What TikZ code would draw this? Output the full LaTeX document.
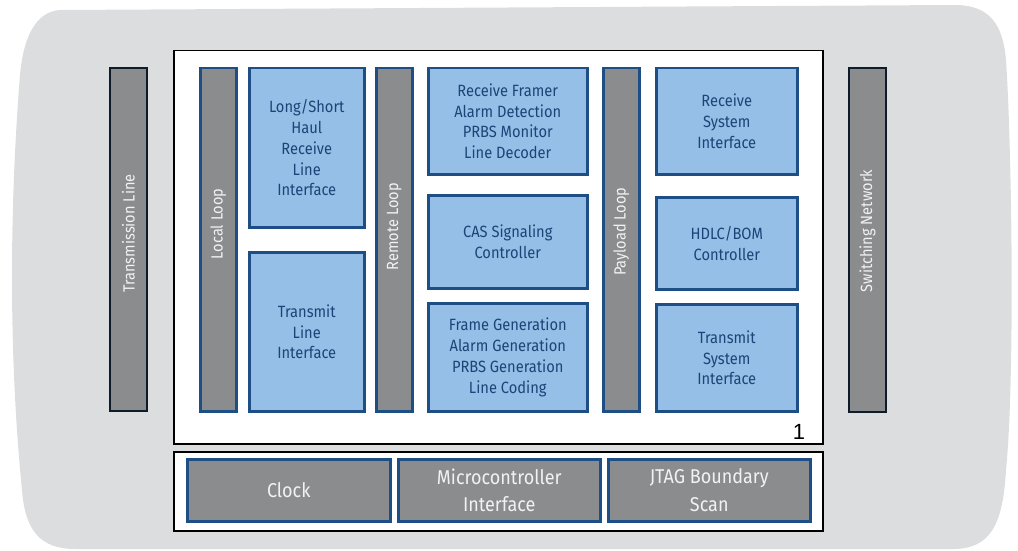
\documentclass[tikz,border=0pt]{standalone}
\usepackage{fontspec}
\setmainfont{Fira Sans}[FakeStretch=0.9]
\newfontfamily\numfont{Liberation Sans}
\usepackage{tikz}

\definecolor{bggray}{HTML}{DCDDDF}
\definecolor{barfill}{HTML}{8B8C8E}
\definecolor{boxblue}{HTML}{95BFE6}
\definecolor{edgeblue}{HTML}{1D4F86}
\definecolor{textblue}{HTML}{1C4478}
\definecolor{bartext}{HTML}{F2F2F2}
\definecolor{baredge}{HTML}{0D1B2A}

\begin{document}
\begin{tikzpicture}[x=1pt,y=-1pt,
	chipbox/.style={draw=black, line width=1.5pt, fill=white, anchor=north west, inner sep=0pt},
	bluebox/.style={draw=edgeblue, line width=2.5pt, fill=boxblue, text=textblue, align=center,
		anchor=north west, inner sep=0pt, font=\fontsize{16.3}{20.8}\selectfont},
	loopbar/.style={draw=edgeblue, line width=2.5pt, fill=barfill, anchor=north west, inner sep=0pt},
	sidebar/.style={draw=baredge, line width=2pt, fill=barfill, anchor=north west, inner sep=0pt},
	graybox/.style={draw=edgeblue, line width=2.5pt, fill=barfill, text=bartext, align=center,
		anchor=north west, inner sep=0pt, font=\fontsize{20}{27.7}\selectfont},
	bartitle/.style={text=bartext, rotate=90, inner sep=0pt, font=\fontsize{16.2}{16}\selectfont}]
	
	\useasboundingbox (0,0) rectangle (1018,551);
	
	% Grey background panel
	\fill[bggray] (62,10) -- (955,5) .. controls (990,5) and (1003,25) .. (1006,60)
		.. controls (1012,150) and (1015,380) .. (1006,470)
		.. controls (1003,525) and (990,548) .. (955,549) -- (75,549)
		.. controls (40,549) and (25,530) .. (22,490)
		.. controls (8,350) and (10,200) .. (20,75)
		.. controls (24,30) and (40,10) .. (62,10) -- cycle;
	
	% Framer chip and its support block
	\node[chipbox, minimum width=649pt, minimum height=393pt] (chip) at (173,50) {};
	\node[chipbox, minimum width=649pt, minimum height=79pt] (support) at (173,451) {};
	\node[font=\numfont\fontsize{22}{22}\selectfont, inner sep=0pt] (chipno) at (799,432) {1};
	
	% Outer bars
	\node[sidebar, minimum width=37pt, minimum height=343pt] (txline) at (109,67) {};
	\node[sidebar, minimum width=37pt, minimum height=344pt] (swnet) at (848,67) {};
	\node[bartitle] (txlinelbl) at ([yshift=6pt]txline.center) {Transmission Line};
	\node[bartitle] (swnetlbl) at ([yshift=9pt]swnet.center) {Switching Network};
	
	% Loop bars inside the chip
	\node[loopbar, minimum width=36pt, minimum height=343pt] (localloop) at (199,67) {};
	\node[loopbar, minimum width=36pt, minimum height=343pt] (remoteloop) at (375,67) {};
	\node[loopbar, minimum width=36pt, minimum height=343pt] (payloadloop) at (602,67) {};
	\node[bartitle] (locallbl) at ([yshift=16pt]localloop.center) {Local Loop};
	\node[bartitle] (remotelbl) at ([yshift=13pt]remoteloop.center) {Remote Loop};
	\node[bartitle] (payloadlbl) at ([yshift=8pt]payloadloop.center) {Payload Loop};
	
	% Line side
	\node[bluebox, minimum width=115pt, minimum height=159pt] (rxline) at (248,67) {Long/Short\\Haul\\Receive\\Line\\Interface};
	\node[bluebox, minimum width=115pt, minimum height=159pt] (txlineif) at (248,251) {Transmit\\Line\\Interface};
	
	% Framer blocks
	\node[bluebox, minimum width=159pt, minimum height=106pt] (rxframer) at (427,67) {Receive Framer\\Alarm Detection\\PRBS Monitor\\Line Decoder};
	\node[bluebox, minimum width=159pt, minimum height=93pt] (cas) at (427,194) {CAS Signaling\\Controller};
	\node[bluebox, minimum width=159pt, minimum height=108pt] (framegen) at (427,302) {Frame Generation\\Alarm Generation\\PRBS Generation\\Line Coding};
	
	% System side
	\node[bluebox, minimum width=141pt, minimum height=106pt] (rxsys) at (655,67) {Receive\\System\\Interface};
	\node[bluebox, minimum width=141pt, minimum height=92pt] (hdlc) at (655,196) {HDLC/BOM\\Controller};
	\node[bluebox, minimum width=141pt, minimum height=107pt] (txsys) at (655,303) {Transmit\\System\\Interface};
	
	% Support blocks
	\node[graybox, minimum width=203pt, minimum height=62pt] (clock) at (186,458) {Clock};
	\node[graybox, minimum width=202pt, minimum height=62pt] (micro) at (397,458) {Microcontroller\\Interface};
	\node[graybox, minimum width=202pt, minimum height=62pt] (jtag) at (607,458) {JTAG Boundary\\Scan};
\end{tikzpicture}
\end{document}
